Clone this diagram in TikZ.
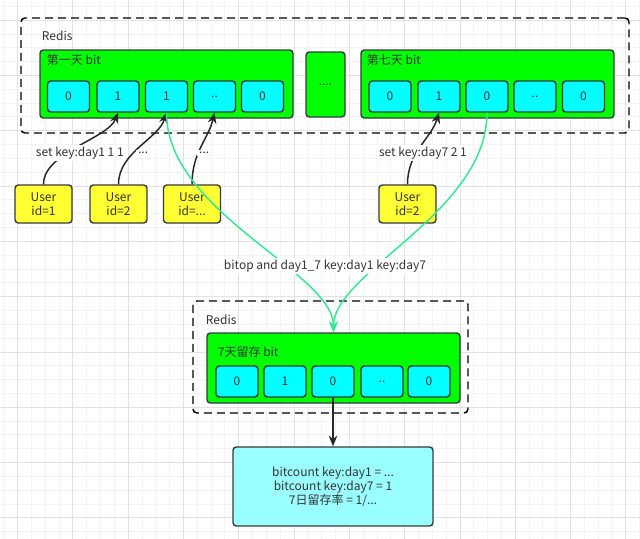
\documentclass[tikz,border=0pt]{standalone}
\usepackage{fontspec}
\setmainfont{Noto Sans CJK SC}
\usetikzlibrary{arrows.meta}
\definecolor{strk}{HTML}{36393D}
\definecolor{gfill}{HTML}{00FF00}
\definecolor{cfill}{HTML}{00FFFF}
\definecolor{yfill}{HTML}{FFFF33}
\definecolor{rfill}{HTML}{99FFFF}
\definecolor{garrow}{HTML}{33E890}
\definecolor{txt}{HTML}{333333}
\definecolor{gridminor}{HTML}{F3F3F3}
\definecolor{gridmajor}{HTML}{E2E2E2}
\begin{document}
\begin{tikzpicture}[x=0.75pt,y=-0.75pt,
  box/.style={draw=strk, line width=1.1pt, rounded corners=2.5pt, inner sep=0pt, text=txt, font=\fontsize{9}{10.5}\selectfont},
  cellb/.style={box, fill=cfill, minimum width=31.5pt, minimum height=23.25pt},
  gbox/.style={box, fill=gfill, minimum width=189.75pt, minimum height=51pt},
  userb/.style={box, fill=yfill, minimum width=42.75pt, minimum height=28.5pt, align=center},
  dashbox/.style={draw=black, line width=1.1pt, dash pattern=on 6pt off 3.75pt, rounded corners=3pt, inner sep=0pt},
  lbl/.style={text=txt, font=\fontsize{9}{10.5}\selectfont, inner sep=0.5pt},
  elbl/.style={lbl, fill=white, inner sep=1.5pt},
  barrow/.style={draw=black!85, line width=1.1pt, -{Stealth[length=8pt,width=6.5pt]}},
  garr/.style={draw=garrow, line width=1.1pt, -{Stealth[length=8pt,width=6.5pt]}}]
\useasboundingbox (0,0) rectangle (640,539);
% grid
\begin{scope}
\clip (0,0) rectangle (640,539);
\foreach \i in {-2,...,46} {\draw[gridminor, line width=0.6pt] ({17.5+\i*13.825},0) -- ({17.5+\i*13.825},539);}
\foreach \i in {-2,...,40} {\draw[gridminor, line width=0.6pt] (0,{20.1+\i*13.825}) -- (640,{20.1+\i*13.825});}
\foreach \i in {-1,...,11} {\draw[gridmajor, line width=0.6pt] ({17.5+\i*55.3},0) -- ({17.5+\i*55.3},539);}
\foreach \i in {-1,...,10} {\draw[gridmajor, line width=0.6pt] (0,{20.1+\i*55.3}) -- (640,{20.1+\i*55.3});}
\end{scope}
% top redis
\node[dashbox, minimum width=456pt, minimum height=86.25pt] (redis1) at (325,75.5) {};
\node[lbl, anchor=west] (r1lbl) at (41,36) {Redis};
\node[gbox] (g1) at (166.5,84) {};
\node[lbl, anchor=west] (g1lbl) at (46,60) {第一天 bit};
\node[cellb] (c11) at (68.5,96.5) {0};
\node[cellb] (c12) at (118,96.5) {1};
\node[cellb] (c13) at (166.5,96.5) {1};
\node[cellb] (c14) at (214.5,96.5) {..};
\node[cellb] (c15) at (262.5,96.5) {0};
\node[box, fill=gfill, minimum width=29.25pt, minimum height=48.75pt] (gdots) at (325.5,84.5) {....};
\node[gbox] (g7) at (487.5,84) {};
\node[lbl, anchor=west] (g7lbl) at (366,60) {第七天 bit};
\node[cellb] (c71) at (390,96.5) {0};
\node[cellb] (c72) at (439,96.5) {1};
\node[cellb] (c73) at (487,96.5) {0};
\node[cellb] (c74) at (535,96.5) {..};
\node[cellb] (c75) at (583.5,96.5) {0};
% users
\node[userb] (u1) at (43.5,204) {User\\id=1};
\node[userb] (u2) at (118.5,204) {User\\id=2};
\node[userb] (u3) at (192,204) {User\\id=...};
\node[userb] (u7) at (407.5,204) {User\\id=2};
% bottom redis
\node[dashbox, minimum width=206.25pt, minimum height=84pt] (redis2) at (330.5,357) {};
\node[lbl, anchor=west] (r2lbl) at (205,320) {Redis};
\node[box, fill=gfill, minimum width=189.75pt, minimum height=52.5pt] (bg) at (333.5,368) {};
\node[lbl, anchor=west] (bglbl) at (217,352) {7天留存 bit};
\node[cellb] (b1) at (237,381.5) {0};
\node[cellb] (b2) at (285,381.5) {1};
\node[cellb] (b3) at (333,381.5) {0};
\node[cellb] (b4) at (382,381.5) {..};
\node[cellb] (b5) at (429,381.5) {0};
% result
\node[box, fill=rfill, minimum width=150pt, minimum height=59.25pt, align=center] (res) at (333,486.5) {bitcount key:day1 = ...\\bitcount key:day7 = 1\\7日留存率 = 1/...};
% user arrows
\draw[barrow] (u1.north) .. controls +(0,-32) and +(-10,26) .. node[elbl, pos=0.4, xshift=9.75pt] {set key:day1 1 1} (c12.south);
\draw[barrow] (u2.north) .. controls +(0,-32) and +(-8,26) .. node[elbl, pos=0.4, xshift=7.5pt] {...} (c13.south);
\draw[barrow] (u3.north) .. controls +(0,-32) and +(-6,26) .. node[elbl, pos=0.4, xshift=4.5pt] {...} (c14.south);
\draw[barrow] (u7.north) .. controls +(0,-32) and +(-8,26) .. node[elbl, pos=0.4, xshift=5pt] {set key:day7 2 1} (c72.south);
% green arrows
\draw[garr] (c13.south) .. controls +(0,100) and +(0,-60) .. (bg.north);
\draw[garr] (c73.south) .. controls +(0,100) and +(0,-60) .. (bg.north);
\node[elbl] (bitop) at (325,266) {bitop and day1\_7 key:day1 key:day7};
% bottom arrow
\draw[barrow] (b3.south) -- (res.north);
\end{tikzpicture}
\end{document}
